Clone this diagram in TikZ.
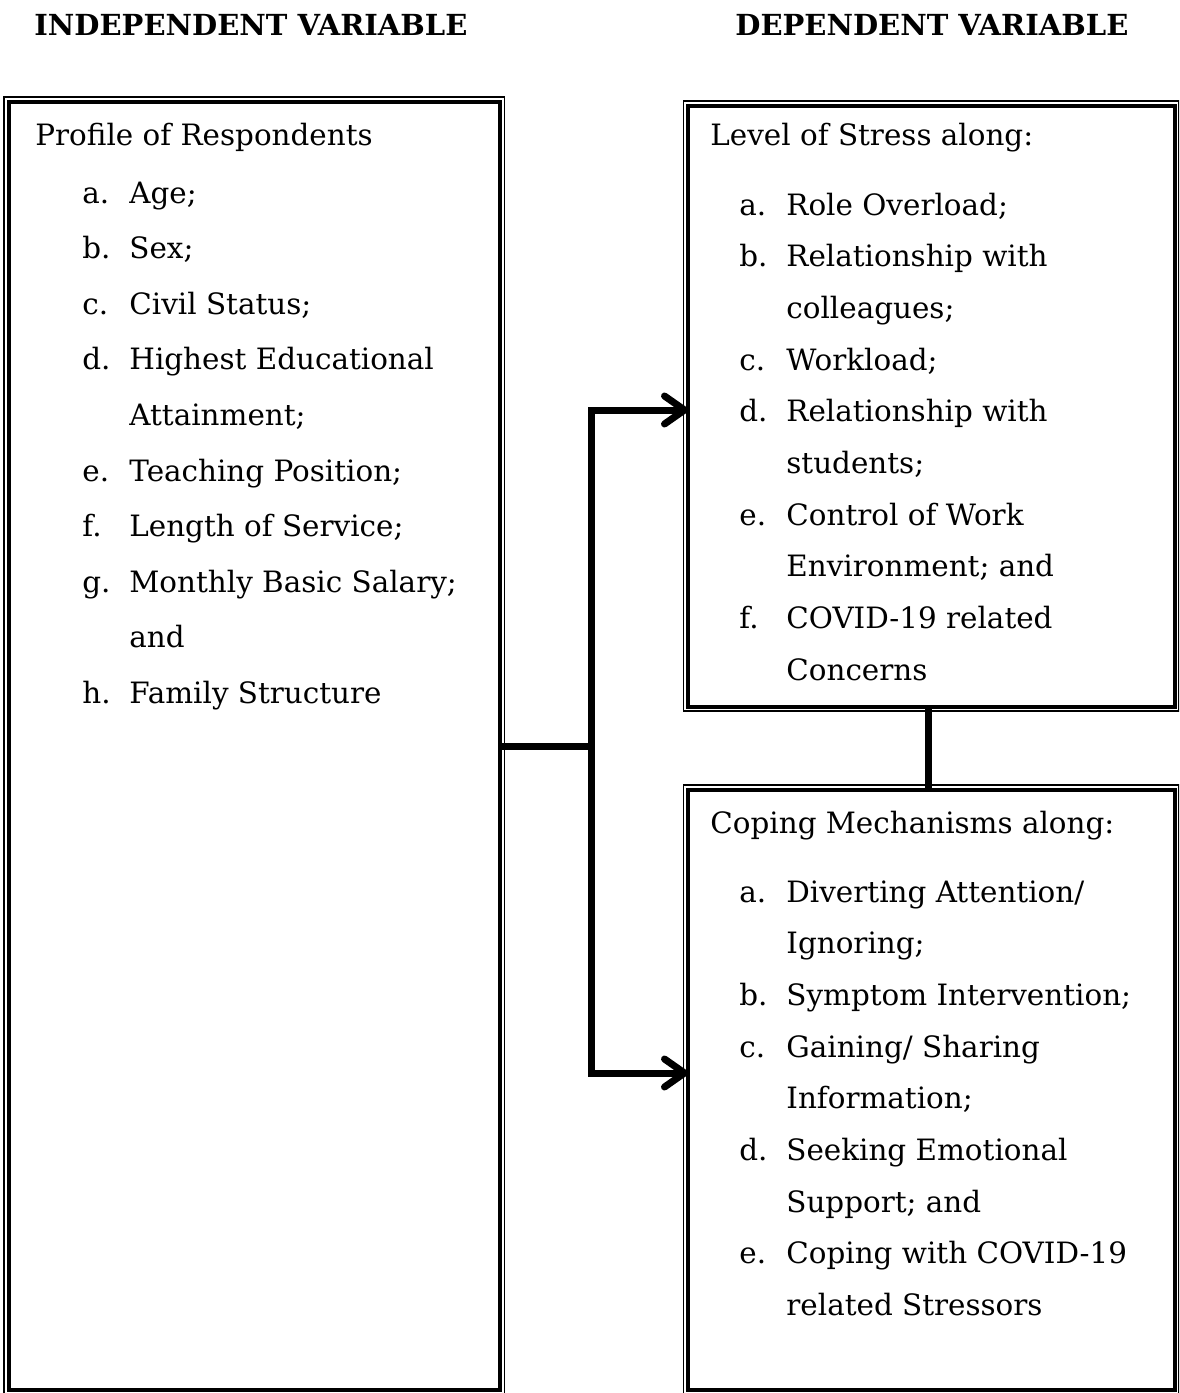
\documentclass[tikz,border=0pt]{standalone}
\usepackage{fontspec}
\setmainfont{DejaVu Serif}
\usetikzlibrary{arrows.meta,fit}

\begin{document}
\begin{tikzpicture}[x=0.5pt,y=-0.5pt,
  box/.style={draw, line width=2pt, inner sep=0pt, outer sep=0pt},
  thinrule/.style={draw, line width=0.6pt},
  link/.style={line width=3.5pt, line join=miter},
  tip/.style={-{Straight Barb[length=10pt,width=14pt,round]}},
  head/.style={anchor=base west, inner sep=0pt, font=\fontsize{14.5}{18}\selectfont\bfseries},
  txt/.style={anchor=base west, inner sep=0pt, font=\fontsize{14.7}{17}\selectfont}]
\useasboundingbox (0,0) rectangle (1179,1393);
\clip (0,0) rectangle (1179,1393);

% column headings
\node[head] (hI) at (34,35) {INDEPENDENT VARIABLE};
\node[head] (hD) at (735,35) {DEPENDENT VARIABLE};

% boxes (thick inner frame, thin outer frame)
\node[box, fit={(8.5,101.5) (500,1390)}] (L) {};
\node[box, fit={(688,105.5) (1174.5,706.5)}] (U) {};
\node[box, fit={(688,789.5) (1174.5,1390)}] (D) {};
\foreach \n in {L,U,D}
  \draw[thinrule] ([shift={(-4.5,-4.5)}]\n.north west) rectangle ([shift={(4.5,4.5)}]\n.south east);

% independent variable
\node[txt] (tL) at (35,145) {Profile of Respondents};
\foreach \lab/\body [count=\i] in {a./{Age;}, b./{Sex;}, c./{Civil Status;},
    d./{Highest Educational}, {}/{Attainment;}, e./{Teaching Position;},
    f./{Length of Service;}, g./{Monthly Basic Salary;}, {}/{and},
    h./{Family Structure}}
  \node[txt] (pL\i) at (82,{203+55.6*(\i-1)}) {\makebox[23.5pt][l]{\lab}\body};

% level of stress
\node[txt] (tU) at (710,145) {Level of Stress along:};
\foreach \lab/\body [count=\i] in {a./{Role Overload;}, b./{Relationship with},
    {}/{colleagues;}, c./{Workload;}, d./{Relationship with}, {}/{students;},
    e./{Control of Work}, {}/{Environment; and}, f./{COVID-19 related},
    {}/{Concerns}}
  \node[txt] (pU\i) at (739,{215+51.7*(\i-1)}) {\makebox[23.5pt][l]{\lab}\body};

% coping mechanisms
\node[txt] (tD) at (710,833) {Coping Mechanisms along:};
\foreach \lab/\body [count=\i] in {a./{Diverting Attention/}, {}/{Ignoring;},
    b./{Symptom Intervention;}, c./{Gaining/ Sharing}, {}/{Information;},
    d./{Seeking Emotional}, {}/{Support; and}, e./{Coping with COVID-19},
    {}/{related Stressors}}
  \node[txt] (pD\i) at (739,{902+51.7*(\i-1)}) {\makebox[23.5pt][l]{\lab}\body};

% connectors
\coordinate (j) at (591,746);
\coordinate (jt) at (591,410);
\coordinate (jb) at (591,1073);
\coordinate (m) at (928,0);
\draw[link] (L.east |- j) -- (j);
\draw[link, tip] (j) -- (jt) -- (U.west |- jt);
\draw[link, tip] (j) -- (jb) -- (D.west |- jb);
\draw[link] (U.south -| m) -- (D.north -| m);
\end{tikzpicture}
\end{document}
